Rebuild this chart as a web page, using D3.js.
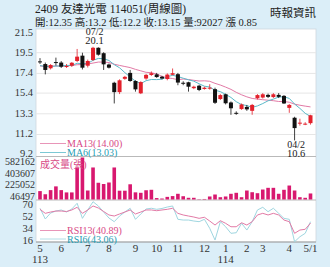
<!DOCTYPE html>
<html>
<head>
<meta charset="utf-8">
<script src="https://cdn.jsdelivr.net/npm/d3@7"></script>
<style>
  body { margin: 0; background: #dbeef8; }
  svg { display: block; }
  text { font-family: "Liberation Serif", "Noto Sans CJK TC", serif; }
</style>
</head>
<body>
<svg id="chart"></svg>
<script>
// weekly candles, week starting Monday (Lunar New Year week 01/27 closed)
const weeks = ["2024-04-29","2024-05-06","2024-05-13","2024-05-20","2024-05-27","2024-06-03","2024-06-10","2024-06-17","2024-06-24",
  "2024-07-01","2024-07-08","2024-07-15","2024-07-22","2024-07-29","2024-08-05","2024-08-12","2024-08-19","2024-08-26",
  "2024-09-02","2024-09-09","2024-09-16","2024-09-23","2024-09-30","2024-10-07","2024-10-14","2024-10-21","2024-10-28",
  "2024-11-04","2024-11-11","2024-11-18","2024-11-25","2024-12-02","2024-12-09","2024-12-16","2024-12-23","2024-12-30",
  "2025-01-06","2025-01-13","2025-01-20","2025-02-03","2025-02-10","2025-02-17","2025-02-24","2025-03-03","2025-03-10",
  "2025-03-17","2025-03-24","2025-03-31","2025-04-07","2025-04-14","2025-04-21","2025-04-28"];

const open  = [18.62,18.35,17.92,18.55,18.5,18.05,18.18,18.66,19.2,18.18,18.76,20.0,19.45,18.3,16.45,15.5,16.85,17.45,16.63,15.38,
  16.88,17.24,17.3,17.06,16.83,17.26,17.32,16.45,16.5,15.9,16.15,15.82,15.85,15.8,14.8,15.28,14.45,13.4,13.78,14.0,
  13.6,14.88,14.95,15.22,15.0,15.22,15.12,13.9,12.9,12.35,12.25,12.35];
const high  = [18.95,18.5,18.35,19.0,18.65,18.35,18.55,19.88,19.5,18.8,20.1,20.05,19.55,18.4,16.55,16.8,17.15,17.75,16.7,16.6,
  17.35,17.6,17.45,17.15,17.4,17.9,17.45,16.6,16.55,16.15,16.25,16.05,16.3,15.95,15.3,15.35,14.55,13.55,14.35,14.2,
  14.3,15.3,15.4,15.35,15.4,15.4,15.2,14.3,13.0,12.8,12.45,13.2];
const low   = [18.35,17.3,17.8,18.2,17.95,17.95,18.05,18.55,17.8,18.0,18.65,19.2,17.75,17.9,14.35,15.3,16.75,16.55,15.55,15.3,
  16.75,17.15,16.95,16.8,16.7,17.2,16.2,16.2,15.55,15.8,15.6,15.75,15.75,14.3,14.7,14.25,13.2,13.2,13.7,13.6,
  13.2,14.75,14.85,14.9,14.9,14.9,14.3,13.4,10.6,12.1,12.15,12.2];
const close = [18.55,17.75,18.25,18.5,18.08,18.15,18.48,19.1,17.98,18.66,20.0,19.3,18.32,17.98,15.5,16.7,17.05,16.63,15.78,16.52,
  17.25,17.42,17.03,16.88,17.28,17.42,16.47,16.38,16.05,16.05,15.72,15.95,15.95,14.42,15.2,14.37,13.86,13.35,14.25,13.75,
  14.2,15.2,15.28,15.02,15.28,15.02,14.35,14.2,11.85,12.4,12.3,13.15];
const volume = [128000,80000,143000,200000,143000,108000,108000,488000,640000,137000,488000,255000,236000,259000,488000,134000,134000,232000,109000,102000,
  141000,148000,22000,15000,40000,52000,87000,50000,26000,26000,5000,8000,46000,76000,35000,46000,87000,102000,35000,137000,
  111000,96000,152000,178000,178000,87000,148000,213000,137000,35000,26000,92027];

const ma13 = [18.15,18.12,18.12,18.15,18.15,18.18,18.2,18.28,18.3,18.35,18.45,18.55,18.55,18.50,18.33,18.21,18.10,17.99,17.81,17.66,
  17.51,17.47,17.34,17.10,16.95,16.88,16.76,16.83,16.78,16.70,16.63,16.65,16.60,16.39,16.22,16.01,15.78,15.48,15.23,15.02,
  14.86,14.79,14.73,14.68,14.63,14.55,14.55,14.47,14.28,14.17,14.08,14.00];
const ma6 = [18.2,18.1,18.1,18.15,18.15,18.21,18.20,18.43,18.38,18.41,18.73,18.92,18.89,18.71,18.29,17.97,17.48,17.03,16.61,16.36,
  16.66,16.78,16.77,16.81,17.06,17.21,17.08,16.91,16.75,16.61,16.35,16.10,16.02,15.69,15.55,15.27,14.96,14.53,14.24,14.13,
  13.96,14.10,14.34,14.62,14.79,15.0,15.03,14.86,14.29,13.85,13.35,13.03];

const rsi13 = [61.9,55.8,57.8,59.3,59.3,58.6,60.9,65.0,55.8,60.9,67.0,63.9,58.6,53.3,51.7,54.8,57.8,60.9,54.8,57.8,
  60.9,60.9,59.8,60.9,61.9,63.5,55.8,53.3,51.7,50.2,48.2,49.8,44.1,38.0,44.6,40.6,35.4,35.4,41.5,38.0,
  43.1,53.3,55.8,53.3,55.8,53.3,45.6,43.1,25.4,30.4,31.5,40.89];
const rsi6 = [63.5,47.2,56.3,59.3,60.9,57.8,62.4,71.1,48.2,60.9,73.5,67.0,57.8,48.7,43.1,51.7,57.8,63.5,46.7,54.8,
  62.4,63.5,61.9,63.2,65.4,67.0,46.7,45.6,45.6,44.1,43.1,46.7,33.0,15.2,43.1,35.4,25.4,26.3,40.6,30.4,
  43.1,60.9,65.0,58.3,63.5,55.8,48.2,46.7,12.6,20.2,25.4,43.06];

const priceTicks = [21.5, 19.5, 17.4, 15.4, 13.3, 11.2, 9.2];
const volTicks = [582162, 403607, 225052, 46497];
const rsiTicks = [70, 52, 34, 16];
const monthTicks = [
  {week: "2024-04-29", label: "5", year: "113"}, {week: "2024-05-27", label: "6"}, {week: "2024-07-01", label: "7"},
  {week: "2024-07-29", label: "8"}, {week: "2024-09-02", label: "9"}, {week: "2024-09-30", label: "10"},
  {week: "2024-10-28", label: "11"}, {week: "2024-12-02", label: "12"}, {week: "2024-12-30", label: "1", year: "114"},
  {week: "2025-02-03", label: "2"}, {week: "2025-02-24", label: "3"}, {week: "2025-03-31", label: "4"},
  {week: "2025-04-28", label: "5/1"}
];
const marks = [
  {week: "2024-07-08", date: "07/2", value: 20.1, pos: "top"},
  {week: "2025-04-07", date: "04/2", value: 10.6, pos: "bottom"}
];

const width = 330, height = 267;
const left = 36, right = 316;
const red = "#e3202b", black = "#111", pink = "#e27aa6", cyan = "#5bbac9", barPink = "#d8186f";

const svg = d3.select("#chart").attr("width", width).attr("height", height);
svg.append("rect").attr("width", width).attr("height", height).attr("fill", "#dbeef8");

// header
svg.append("text").attr("x", 35).attr("y", 13).attr("font-size", 11.5).attr("fill", "#222")
  .text("2409  友達光電 114051(周線圖)");
svg.append("text").attr("x", 35).attr("y", 25.5).attr("font-size", 10.5).attr("fill", "#222")
  .text("開:12.35 高:13.2 低:12.2 收:13.15 量:92027 漲 0.85");
svg.append("text").attr("x", 316).attr("y", 17).attr("text-anchor", "end").attr("font-size", 11.5).attr("fill", "#222")
  .text("時報資訊");

// panel
svg.append("rect").attr("x", left).attr("y", 29).attr("width", right - left).attr("height", 213)
  .attr("fill", "#fff").attr("stroke", "#cfd8de").attr("stroke-width", 0.8);

const x = d3.scalePoint().domain(weeks).range([40, 310.5]);
const y = d3.scaleLinear().domain([9.2, 21.5]).range([154.2, 33]);
const yv = d3.scaleLinear().domain([0, 640000]).range([199.5, 157.5]);
const yr = d3.scaleLinear().domain([16, 70]).range([239.5, 204]);

// grid
svg.append("g").selectAll("line").data(priceTicks.slice(1, -1)).enter().append("line")
  .attr("x1", left).attr("x2", right).attr("y1", d => y(d)).attr("y2", d => y(d))
  .attr("stroke", "#e6e6e6").attr("stroke-width", 1);
[156.5, 200].forEach(v => svg.append("line").attr("x1", left).attr("x2", right).attr("y1", v).attr("y2", v)
  .attr("stroke", "#b9b9b9").attr("stroke-width", 1));
svg.append("line").attr("x1", left).attr("x2", right).attr("y1", 242).attr("y2", 242)
  .attr("stroke", "#9a9a9a").attr("stroke-width", 1);

// axis labels
svg.append("g").selectAll("text").data(priceTicks).enter().append("text")
  .attr("x", 33).attr("y", d => y(d) + 3).attr("text-anchor", "end").attr("font-size", 10.5).attr("fill", "#333")
  .text(d => d.toFixed(1));
svg.append("g").selectAll("text").data(volTicks).enter().append("text")
  .attr("x", 35).attr("y", d => yv(d) + 3.5).attr("text-anchor", "end").attr("font-size", 10).attr("fill", "#333")
  .text(d => d);
svg.append("g").selectAll("text").data(rsiTicks).enter().append("text")
  .attr("x", 33).attr("y", d => yr(d) + 4).attr("text-anchor", "end").attr("font-size", 10.5).attr("fill", "#333")
  .text(d => d);
const mt = svg.append("g").selectAll("g").data(monthTicks).enter().append("g");
mt.append("text").attr("x", d => x(d.week)).attr("y", 252).attr("text-anchor", "middle")
  .attr("font-size", 11).attr("fill", "#333").text(d => d.label);
mt.filter(d => d.year).append("text").attr("x", d => x(d.week)).attr("y", 263).attr("text-anchor", "middle")
  .attr("font-size", 11).attr("fill", "#333").text(d => d.year);

// moving averages
const line = (arr, sc) => d3.line().x((d, i) => x(weeks[i])).y(d => sc(d))(arr);
svg.append("path").attr("d", line(ma13, y)).attr("fill", "none").attr("stroke", pink).attr("stroke-width", 1);
svg.append("path").attr("d", line(ma6, y)).attr("fill", "none").attr("stroke", cyan).attr("stroke-width", 1);

// candles
const candles = weeks.map((w, i) => ({w, o: open[i], h: high[i], l: low[i], c: close[i]}));
const cg = svg.append("g").selectAll("g").data(candles).enter().append("g");
cg.append("line").attr("x1", d => x(d.w)).attr("x2", d => x(d.w))
  .attr("y1", d => y(d.h)).attr("y2", d => y(d.l))
  .attr("stroke", d => d.c >= d.o ? red : black).attr("stroke-width", 0.8);
cg.append("rect").attr("x", d => x(d.w) - 2).attr("width", 4)
  .attr("y", d => y(Math.max(d.o, d.c)))
  .attr("height", d => Math.max(1, Math.abs(y(d.o) - y(d.c))))
  .attr("fill", d => d.c >= d.o ? red : black);

// high / low marks
marks.forEach(m => {
  const base = m.pos === "top" ? y(m.value) - 12 : y(m.value) + 8;
  svg.append("text").attr("x", x(m.week) + 1.5).attr("y", base).attr("text-anchor", "middle")
    .attr("font-size", 10).attr("fill", "#222").text(m.date);
  svg.append("text").attr("x", x(m.week) + 1.5).attr("y", base + 9).attr("text-anchor", "middle")
    .attr("font-size", 10.5).attr("fill", "#222").text(m.value.toFixed(1));
});

// MA legend
const legend = [{t: "MA13(14.00)", c: pink, tc: "#d84a86", y: 143.5}, {t: "MA6(13.03)", c: cyan, tc: "#1f9db3", y: 152.5}];
legend.forEach(l => {
  svg.append("line").attr("x1", 40).attr("x2", 66).attr("y1", l.y).attr("y2", l.y).attr("stroke", l.c).attr("stroke-width", 0.8);
  svg.append("text").attr("x", 67).attr("y", l.y + 3.6).attr("font-size", 10).attr("fill", l.tc).text(l.t);
});

// volume
svg.append("g").selectAll("rect").data(volume).enter().append("rect")
  .attr("x", (d, i) => x(weeks[i]) - 1.8).attr("width", 3.6)
  .attr("y", d => yv(d)).attr("height", d => yv(0) - yv(d))
  .attr("fill", barPink);
svg.append("text").attr("x", 40).attr("y", 167.5).attr("font-size", 10).attr("fill", "#d84a86").text("成交量(張)");

// RSI
svg.append("path").attr("d", line(rsi6, yr)).attr("fill", "none").attr("stroke", "#9fd6e0").attr("stroke-width", 1);
svg.append("path").attr("d", line(rsi13, yr)).attr("fill", "none").attr("stroke", pink).attr("stroke-width", 1);
const rlegend = [{t: "RSI13(40.89)", c: pink, tc: "#d84a86", y: 230.5}, {t: "RSI6(43.06)", c: "#9fd6e0", tc: "#1f9db3", y: 239}];
rlegend.forEach(l => {
  svg.append("line").attr("x1", 40).attr("x2", 66).attr("y1", l.y).attr("y2", l.y).attr("stroke", l.c).attr("stroke-width", 0.8);
  svg.append("text").attr("x", 67).attr("y", l.y + 3.6).attr("font-size", 10).attr("fill", l.tc).text(l.t);
});
</script>
</body>
</html>
